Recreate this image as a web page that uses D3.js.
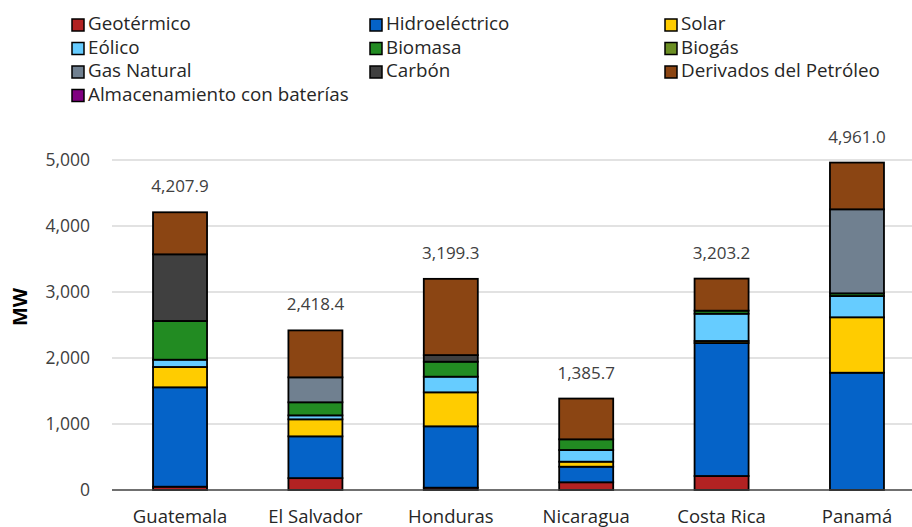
<!DOCTYPE html>
<html>
<head>
<meta charset="utf-8">
<script src="https://cdn.jsdelivr.net/npm/d3@7"></script>
<style>
  html, body { margin: 0; padding: 0; background: #fff; }
  svg { display: block; font-family: "Open Sans", "Noto Sans", sans-serif; }
</style>
</head>
<body>
<svg id="chart" width="912" height="527"></svg>
<script>
// Capacidad instalada por país (MW), apilada por tecnología
const countries = ["Guatemala", "El Salvador", "Honduras", "Nicaragua", "Costa Rica", "Panamá"];
const totals = [4207.9, 2418.4, 3199.3, 1385.7, 3203.2, 4961.0];

const geotermico   = [50, 180, 35, 117, 212, 0];
const hidro        = [1506, 633, 930, 236, 2015, 1777];
const solar        = [308, 258, 515, 76, 31, 840];
const eolico       = [110, 60, 237, 177, 413, 322];
const biomasa      = [587, 198, 227, 162, 46, 41];
const biogas       = [0, 0, 0, 0, 0, 0];
const gasNatural   = [0, 378, 0, 0, 0, 1273];
const carbon       = [1010, 0, 100, 0, 0, 0];
const derivados    = [636.9, 711.4, 1155.3, 617.7, 486.2, 708.0];
const baterias     = [0, 0, 0, 0, 0, 0];

const yTicks = [0, 1000, 2000, 3000, 4000, 5000];

const series = [
  { name: "Geotérmico", values: geotermico, color: "#B22222" },
  { name: "Hidroeléctrico", values: hidro, color: "#0563C8" },
  { name: "Solar", values: solar, color: "#FFCC00" },
  { name: "Eólico", values: eolico, color: "#66CCFF" },
  { name: "Biomasa", values: biomasa, color: "#228B22" },
  { name: "Biogás", values: biogas, color: "#6B8E23" },
  { name: "Gas Natural", values: gasNatural, color: "#708090" },
  { name: "Carbón", values: carbon, color: "#404040" },
  { name: "Derivados del Petróleo", values: derivados, color: "#8B4513" },
  { name: "Almacenamiento con baterías", values: baterias, color: "#800080" }
];

const rows = countries.map((c, i) => {
  const r = { country: c };
  series.forEach(s => { r[s.name] = s.values[i]; });
  return r;
});

const svg = d3.select("#chart");

const x = d3.scaleBand()
  .domain(countries)
  .range([112, 925])
  .paddingInner(0.601)
  .paddingOuter(0.303);

const y = d3.scaleLinear()
  .domain([0, 5000])
  .range([490, 160]);

// Gridlines
svg.append("g")
  .selectAll("line")
  .data(yTicks.filter(d => d > 0))
  .join("line")
  .attr("x1", 112).attr("x2", 912)
  .attr("y1", d => y(d)).attr("y2", d => y(d))
  .attr("stroke", "#D9D9D9")
  .attr("stroke-width", 1.5);

// Y axis labels
const yAxis = svg.append("g")
  .attr("transform", "translate(112,0)")
  .call(d3.axisLeft(y).tickValues(yTicks).tickFormat(d3.format(",")).tickSize(0).tickPadding(22));
yAxis.select(".domain").remove();
yAxis.selectAll("text")
  .attr("font-family", "'Open Sans', sans-serif")
  .attr("font-size", 17.5)
  .attr("fill", "#404040");

svg.append("text")
  .attr("transform", "translate(27,307) rotate(-90)")
  .attr("text-anchor", "middle")
  .attr("font-size", 20)
  .attr("font-weight", "bold")
  .attr("fill", "#000")
  .text("MW");

// Stacked bars
const stack = d3.stack().keys(series.map(s => s.name));
const stacked = stack(rows);

svg.append("g")
  .selectAll("g")
  .data(stacked)
  .join("g")
  .attr("fill", (d, i) => series[i].color)
  .selectAll("rect")
  .data(d => d.filter(v => v[1] - v[0] > 0))
  .join("rect")
  .attr("x", d => x(d.data.country))
  .attr("width", x.bandwidth())
  .attr("y", d => y(d[1]))
  .attr("height", d => y(d[0]) - y(d[1]))
  .attr("stroke", "#000")
  .attr("stroke-width", 1.8);

// Baseline
svg.append("line")
  .attr("x1", 112).attr("x2", 912)
  .attr("y1", y(0)).attr("y2", y(0))
  .attr("stroke", "#404040")
  .attr("stroke-width", 1.5);

// Total labels
svg.append("g")
  .selectAll("text")
  .data(countries)
  .join("text")
  .attr("x", d => x(d) + x.bandwidth() / 2)
  .attr("y", (d, i) => y(totals[i]) - 20)
  .attr("text-anchor", "middle")
  .attr("font-size", 17)
  .attr("fill", "#404040")
  .text((d, i) => d3.format(",.1f")(totals[i]));

// Category labels
const xAxis = svg.append("g")
  .attr("transform", `translate(0,${y(0)})`)
  .call(d3.axisBottom(x).tickSize(0).tickPadding(20));
xAxis.select(".domain").remove();
xAxis.selectAll("text")
  .attr("font-family", "'Open Sans', sans-serif")
  .attr("font-size", 18.5)
  .attr("fill", "#262626");

// Legend
const legendCols = [72, 370, 665];
const legend = svg.append("g");
series.forEach((s, i) => {
  const col = i % 3, row = Math.floor(i / 3);
  const gx = legendCols[col], gy = 19 + row * 23.5;
  legend.append("rect")
    .attr("x", gx).attr("y", gy)
    .attr("width", 12).attr("height", 12)
    .attr("fill", s.color)
    .attr("stroke", "#000")
    .attr("stroke-width", 1.5);
  legend.append("text")
    .attr("x", gx + 16).attr("y", gy + 11)
    .attr("font-size", 18.8)
    .attr("fill", "#262626")
    .text(s.name);
});
</script>
</body>
</html>
